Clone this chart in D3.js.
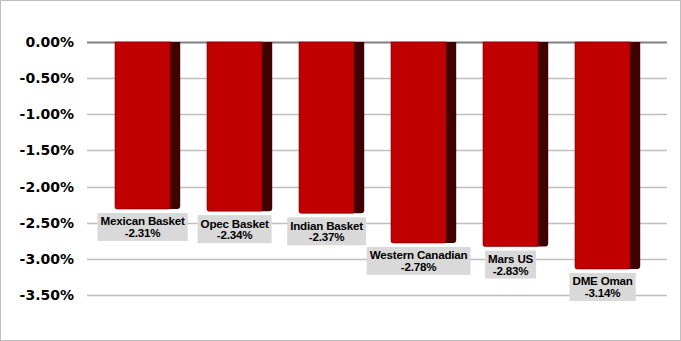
<!DOCTYPE html>
<html lang="en">
    <head>
        <meta charset="utf-8">
        <title>Crude basket change</title>
        <script src="https://d3js.org/d3.v7.min.js"></script>
        <style type="text/css">
         body { margin: 0; background: #fff; }
        </style>
    </head>
    <body>
        <script>
         //Data
         var categories = ["Mexican Basket", "Opec Basket", "Indian Basket", "Western Canadian", "Mars US", "DME Oman"];
         var values = [-2.31, -2.34, -2.37, -2.78, -2.83, -3.14];
         var ticks = [0, -0.5, -1.0, -1.5, -2.0, -2.5, -3.0, -3.5];

         var width = 681;
         var height = 341;

         var svg = d3.select("body")
                     .append("svg")
                     .attr("width", width)
                     .attr("height", height);

         //Outer frame
         svg.append("rect")
            .attr("x", 0.5).attr("y", 0.5)
            .attr("width", width - 1).attr("height", height - 1)
            .attr("fill", "#fff")
            .attr("stroke", "#bfbfbf");

         var y = d3.scaleLinear()
                   .domain([0, -3.5])
                   .range([42, 295]);

         var x = d3.scaleBand()
                   .domain(categories)
                   .range([115, 667])
                   .padding(0);

         var depth = 10;
         var frontW = x.bandwidth() * 0.6;

         //Gridlines
         svg.selectAll(".grid")
            .data(ticks)
            .enter()
            .append("line")
            .attr("x1", 87).attr("x2", 667)
            .attr("y1", function(d) { return Math.round(y(d)) + 0.5; })
            .attr("y2", function(d) { return Math.round(y(d)) + 0.5; })
            .attr("stroke", function(d) { return d === 0 ? "#808080" : "#bfbfbf"; })
            .attr("stroke-width", function(d) { return d === 0 ? 2 : 1.5; });

         //Axis labels
         svg.selectAll(".tick")
            .data(ticks)
            .enter()
            .append("text")
            .attr("x", 74)
            .attr("y", function(d) { return y(d) + 5; })
            .attr("text-anchor", "end")
            .style("font-family", "DejaVu Sans")
            .style("font-weight", "bold")
            .style("font-size", "14px")
            .text(function(d) { return d3.format(".2f")(d).replace("−", "-") + "%"; });

         //Bars
         var bars = svg.selectAll(".bar")
                       .data(categories)
                       .enter()
                       .append("g");

         bars.append("path")
             .attr("d", function(d, i) {
                 var x0 = x(d) + frontW - 2, x1 = x(d) + frontW + depth, y0 = y(0), y1 = y(values[i]), r = 3;
                 return "M" + x0 + "," + y0 + "H" + x1 + "V" + (y1 - r) + "Q" + x1 + "," + y1 + " " + (x1 - r) + "," + y1 + "H" + x0 + "Z";
             })
             .attr("fill", "#3f0000");

         bars.append("path")
             .attr("d", function(d, i) {
                 var x0 = x(d), x1 = x(d) + frontW, y0 = y(0), y1 = y(values[i]), r = 2;
                 return "M" + x0 + "," + y0 + "H" + x1 + "V" + (y1 - r) + "Q" + x1 + "," + y1 + " " + (x1 - r) + "," + y1 + "H" + (x0 + r) + "Q" + x0 + "," + y1 + " " + x0 + "," + (y1 - r) + "Z";
             })
             .attr("fill", "#c00000")
             .attr("stroke", "#6a0000")
             .attr("stroke-width", 0.6);

         //Data labels
         var labels = svg.selectAll(".lab")
                         .data(categories)
                         .enter()
                         .append("g")
                         .attr("transform", function(d, i) {
                             return "translate(" + (x(d) + frontW / 2) + "," + (y(values[i]) + 4) + ")";
                         });

         labels.each(function(d, i) {
             var g = d3.select(this);
             var t1 = g.append("text")
                       .attr("y", 12.5)
                       .text(d);
             var t2 = g.append("text")
                       .attr("y", 24)
                       .text(d3.format(".2f")(values[i]).replace("−", "-") + "%");
             g.selectAll("text")
              .attr("text-anchor", "middle")
              .style("font-family", "Liberation Sans")
              .style("font-weight", "bold")
              .style("font-size", "11.6px")
              .style("letter-spacing", "-0.2px");
             var w = Math.max(t1.node().getComputedTextLength(), t2.node().getComputedTextLength()) + 6;
             g.insert("rect", "text")
              .attr("x", -w / 2)
              .attr("y", 0)
              .attr("width", w)
              .attr("height", 28)
              .attr("fill", "#d9d9d9");
         });
        </script>
    </body>
</html>
